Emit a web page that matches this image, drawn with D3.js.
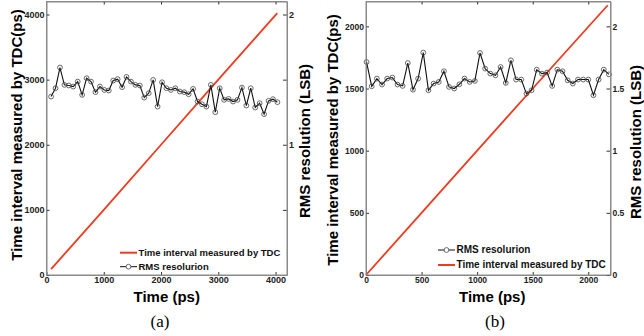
<!DOCTYPE html>
<html>
<head>
<meta charset="utf-8">
<script src="https://cdn.jsdelivr.net/npm/d3@7"></script>
<style>
  body { margin: 0; background: #fff; }
  svg { display: block; font-family: "Liberation Sans", Arial, sans-serif; }
  .tick text { font-weight: bold; fill: #222; }
  .tick line { stroke: #333; }
  .domain { stroke: #8a8a8a; }
</style>
</head>
<body>
<div id="chart"></div>
<script>
// (a) RMS resolution samples (LSB), evenly spaced in time
const rmsA = [1.370, 1.434, 1.593, 1.460, 1.455, 1.447, 1.485, 1.383, 1.511, 1.485,
  1.404, 1.447, 1.421, 1.416, 1.493, 1.504, 1.442, 1.521, 1.485, 1.460,
  1.455, 1.362, 1.396, 1.498, 1.293, 1.480, 1.434, 1.421, 1.434, 1.409,
  1.404, 1.388, 1.429, 1.332, 1.311, 1.293, 1.460, 1.250, 1.434, 1.345,
  1.352, 1.332, 1.345, 1.439, 1.301, 1.434, 1.286, 1.319, 1.235, 1.337,
  1.350, 1.327];
const rmsStartA = 80, rmsStepA = 77.5;
// (a) time interval measured by TDC
const tdcTimeA = [80, 1000, 2000, 3000, 4030];
const tdcValA = [90, 1000, 2000, 3000, 4020];

// (b)
const rmsB = [1.713, 1.518, 1.580, 1.532, 1.580, 1.588, 1.532, 1.521, 1.705, 1.491,
  1.580, 1.789, 1.486, 1.540, 1.553, 1.639, 1.513, 1.500, 1.534, 1.580,
  1.553, 1.561, 1.786, 1.660, 1.620, 1.606, 1.673, 1.545, 1.727, 1.572,
  1.572, 1.459, 1.486, 1.652, 1.620, 1.628, 1.521, 1.652, 1.639, 1.566,
  1.540, 1.572, 1.572, 1.572, 1.446, 1.572, 1.652, 1.614];
const rmsStartB = 5, rmsStepB = 46.4;
const tdcTimeB = [0, 500, 1000, 1500, 2175];
const tdcValB = [0, 500, 1000, 1500, 2170];

const xTicksA = [0, 1000, 2000, 3000, 4000];
const yTicksA = [0, 1000, 2000, 3000, 4000];
const y2TicksA = [0.5, 1, 1.5, 2];
const xTicksB = [0, 500, 1000, 1500, 2000];
const yTicksB = [0, 500, 1000, 1500, 2000];
const y2TicksB = [0, 0.5, 1, 1.5, 2];

const svg = d3.select("#chart").append("svg")
  .attr("width", 644).attr("height", 336);

const RED = "#ee3b1d";
const fmt = d3.format("d");

function drawPanel(p) {
  const x = d3.scaleLinear().domain(p.xDomain).range([p.left, p.right]);
  const y = d3.scaleLinear().domain(p.yDomain).range([p.bottom, p.top]);
  const y2 = d3.scaleLinear().domain(p.y2Domain).range([p.bottom, p.top]);
  const g = svg.append("g");

  // frame axes, ticks inside like matlab
  g.append("g").attr("transform", `translate(0,${p.bottom})`)
    .call(d3.axisBottom(x).tickValues(p.xTicks).tickFormat(fmt)
      .tickSizeInner(-3).tickSizeOuter(0).tickPadding(2))
    .style("font-size", p.fs + "px");
  g.append("g").attr("transform", `translate(0,${p.top})`)
    .call(d3.axisTop(x).tickValues(p.xTicks.slice(1)).tickSizeInner(-3).tickSizeOuter(0).tickFormat(""));
  g.append("g").attr("transform", `translate(${p.left},0)`)
    .call(d3.axisLeft(y).tickValues(p.yTicks).tickFormat(fmt)
      .tickSizeInner(-3).tickSizeOuter(0).tickPadding(2))
    .style("font-size", p.fs + "px");
  g.append("g").attr("transform", `translate(${p.right},0)`)
    .call(d3.axisRight(y2).tickValues(p.y2Ticks).tickSizeInner(-4).tickSizeOuter(0).tickPadding(2)
      .tickFormat(p.y2Format))
    .style("font-size", p.fs + "px");
  g.selectAll("text").attr("fill", "#222").style("font-weight", "bold");

  // TDC line
  const tdc = p.tdcTime.map((t, i) => [t, p.tdcVal[i]]);
  g.append("path").datum(tdc)
    .attr("fill", "none").attr("stroke", RED).attr("stroke-width", 1.8)
    .attr("d", d3.line().x(d => x(d[0])).y(d => y(d[1])));

  // RMS resolution line + circles
  const rms = p.rms.map((v, i) => [p.rmsStart + i * p.rmsStep, v]);
  g.append("path").datum(rms)
    .attr("fill", "none").attr("stroke", "#111").attr("stroke-width", 1.1)
    .attr("d", d3.line().x(d => x(d[0])).y(d => y2(d[1])));
  g.selectAll(".pt").data(rms).enter().append("circle")
    .attr("class", "pt")
    .attr("cx", d => x(d[0])).attr("cy", d => y2(d[1])).attr("r", 2.4)
    .attr("fill", "none").attr("stroke", "#444").attr("stroke-width", 0.8);

  // legend
  p.legend.forEach((item, i) => {
    const ly = p.legY + i * p.legGap;
    g.append("line").attr("x1", p.legX).attr("x2", p.legX + 17)
      .attr("y1", ly).attr("y2", ly)
      .attr("stroke", item.color).attr("stroke-width", item.marker ? 1 : 2);
    if (item.marker) {
      g.append("circle").attr("cx", p.legX + 8.5).attr("cy", ly).attr("r", 2.4)
        .attr("fill", "#fff").attr("stroke", "#444").attr("stroke-width", 0.8);
    }
    g.append("text").attr("x", p.legX + 18.5).attr("y", ly + 3.4)
      .style("font-size", p.legFs + "px").style("font-weight", "bold").attr("fill", "#111")
      .text(item.label);
  });

  // titles
  const cx = (p.left + p.right) / 2;
  g.append("text").attr("x", cx + p.xTitleShift).attr("y", 302)
    .attr("text-anchor", "middle").style("font-size", "15px").style("font-weight", "bold")
    .text("Time (ps)");
  g.append("text")
    .attr("transform", `translate(${p.yTitleX},${p.yTitleY}) rotate(-90)`)
    .attr("text-anchor", "middle").attr("dy", "0.35em")
    .style("font-size", "15px").style("font-weight", "bold")
    .text("Time interval measured by TDC(ps)");
  g.append("text")
    .attr("transform", `translate(${p.y2TitleX},${p.y2TitleY}) rotate(-90)`)
    .attr("text-anchor", "middle").attr("dy", "0.35em")
    .style("font-size", "15px").style("font-weight", "bold")
    .text("RMS resolution (LSB)");
  g.append("text").attr("x", p.capX).attr("y", 327)
    .attr("text-anchor", "middle")
    .style("font-family", "'Liberation Serif', 'Times New Roman', serif").style("font-size", "17px")
    .text(p.caption);

  // closing frame lines on top of everything
  g.append("rect").attr("x", p.left).attr("y", p.top)
    .attr("width", p.right - p.left).attr("height", p.bottom - p.top)
    .attr("fill", "none").attr("stroke", "#8a8a8a").attr("stroke-width", 1);
}

drawPanel({
  left: 46.5, right: 287, top: 1.5, bottom: 275,
  xDomain: [0, 4200], yDomain: [0, 4200], y2Domain: [0, 2.1],
  xTicks: xTicksA, yTicks: yTicksA, y2Ticks: y2TicksA,
  y2Format: d => Number.isInteger(d) ? d : "",
  fs: 9,
  rms: rmsA, rmsStart: rmsStartA, rmsStep: rmsStepA,
  tdcTime: tdcTimeA, tdcVal: tdcValA,
  legX: 120, legY: 252.7, legGap: 14, legFs: 9.5,
  legend: [
    { label: "Time interval measured by TDC", color: RED, marker: false },
    { label: "RMS resolurion", color: "#111", marker: true }
  ],
  xTitleShift: 0, yTitleX: 17, yTitleY: 135, y2TitleX: 305, y2TitleY: 141,
  capX: 160, caption: "(a)"
});

drawPanel({
  left: 366, right: 610.5, top: 1.5, bottom: 275,
  xDomain: [0, 2200], yDomain: [0, 2200], y2Domain: [0, 2.2],
  xTicks: xTicksB, yTicks: yTicksB, y2Ticks: y2TicksB,
  y2Format: d => d,
  fs: 8.5,
  rms: rmsB, rmsStart: rmsStartB, rmsStep: rmsStepB,
  tdcTime: tdcTimeB, tdcVal: tdcValB,
  legX: 438, legY: 250, legGap: 15, legFs: 10,
  legend: [
    { label: "RMS resolurion", color: "#111", marker: true },
    { label: "Time interval measured by TDC", color: RED, marker: false }
  ],
  xTitleShift: 4, yTitleX: 333, yTitleY: 140, y2TitleX: 636, y2TitleY: 142,
  capX: 495, caption: "(b)"
});
</script>
</body>
</html>
